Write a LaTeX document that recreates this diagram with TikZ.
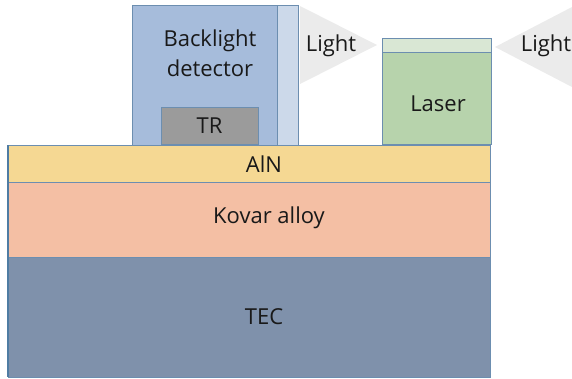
\documentclass[tikz,border=0pt]{standalone}
\usepackage{fontspec}
\setmainfont{Open Sans}
\usepackage{xcolor}
\usetikzlibrary{positioning}
\definecolor{edgeblue}{HTML}{6C8EB0}
\definecolor{edgedark}{HTML}{4F7CA3}
\definecolor{alnfill}{HTML}{F5D893}
\definecolor{kovarfill}{HTML}{F4BFA4}
\definecolor{tecfill}{HTML}{7F91AB}
\definecolor{detectorfill}{HTML}{A6BCDB}
\definecolor{windowfill}{HTML}{CCD9EA}
\definecolor{trfill}{HTML}{9B9B9B}
\definecolor{laserfill}{HTML}{B7D3AC}
\definecolor{lasertopfill}{HTML}{D9E7D4}
\definecolor{lightfill}{HTML}{EBEBEB}

\begin{document}
\begin{tikzpicture}[
  x=1pt,
  y=-1pt,
  node distance=0pt and 0pt,
  every node/.append style={
    align=center,
    inner sep=0pt,
    outer sep=0pt,
    text=black!90,
    font=\fontsize{22}{30}\selectfont
  },
  layer node/.style={draw=edgeblue, line width=1pt, minimum width=482pt},
  block node/.style={draw=edgeblue, line width=1pt},
  light wedge/.style={fill=lightfill, draw=none}
]
\useasboundingbox (0,0) rectangle (572,378);

% light cones go first, the labels sit on top
\fill[light wedge] (300,6) -- (377,45) -- (300,84) -- cycle;
\fill[light wedge] (572,7) -- (495,47) -- (572,87) -- cycle;

% stack, from the bottom up
\node[layer node, fill=tecfill, minimum height=120pt, anchor=south west] (tec) at (8,377) {};
\node[layer node, fill=kovarfill, minimum height=75pt, above=of tec] (kovar) {};
\node[layer node, fill=alnfill, minimum height=37pt, above=of kovar] (aln) {};
\draw[edgedark, line width=2pt] (aln.north west) -- (tec.south west);
\node (tectext) at (264,317) {TEC};
\node (kovartext) at (269,218) {Kovar alloy};
\node (alntext) at (264,164) {AlN};

\node[block node, fill=detectorfill, minimum width=145pt, minimum height=140pt, anchor=south west] (detector) at (132,145) {};
\node[block node, fill=windowfill, minimum width=21pt, minimum height=140pt, right=of detector] (window) {};
\node[block node, fill=trfill, minimum width=97pt, minimum height=37pt, anchor=south west] (tr) at (161,144) {TR};
\node (backlight) at (210,53) {Backlight\\detector};

\node[block node, fill=laserfill, minimum width=109pt, minimum height=92pt, anchor=south west] (laser) at (382,144) {};
\node[block node, fill=lasertopfill, minimum width=109pt, minimum height=14pt, above=of laser] (lasertop) {};
\node (lasertext) at (438,104) {Laser};

\node (light1) at (331,46) {Light};
\node (light2) at (546,46) {Light};
\end{tikzpicture}
\end{document}
